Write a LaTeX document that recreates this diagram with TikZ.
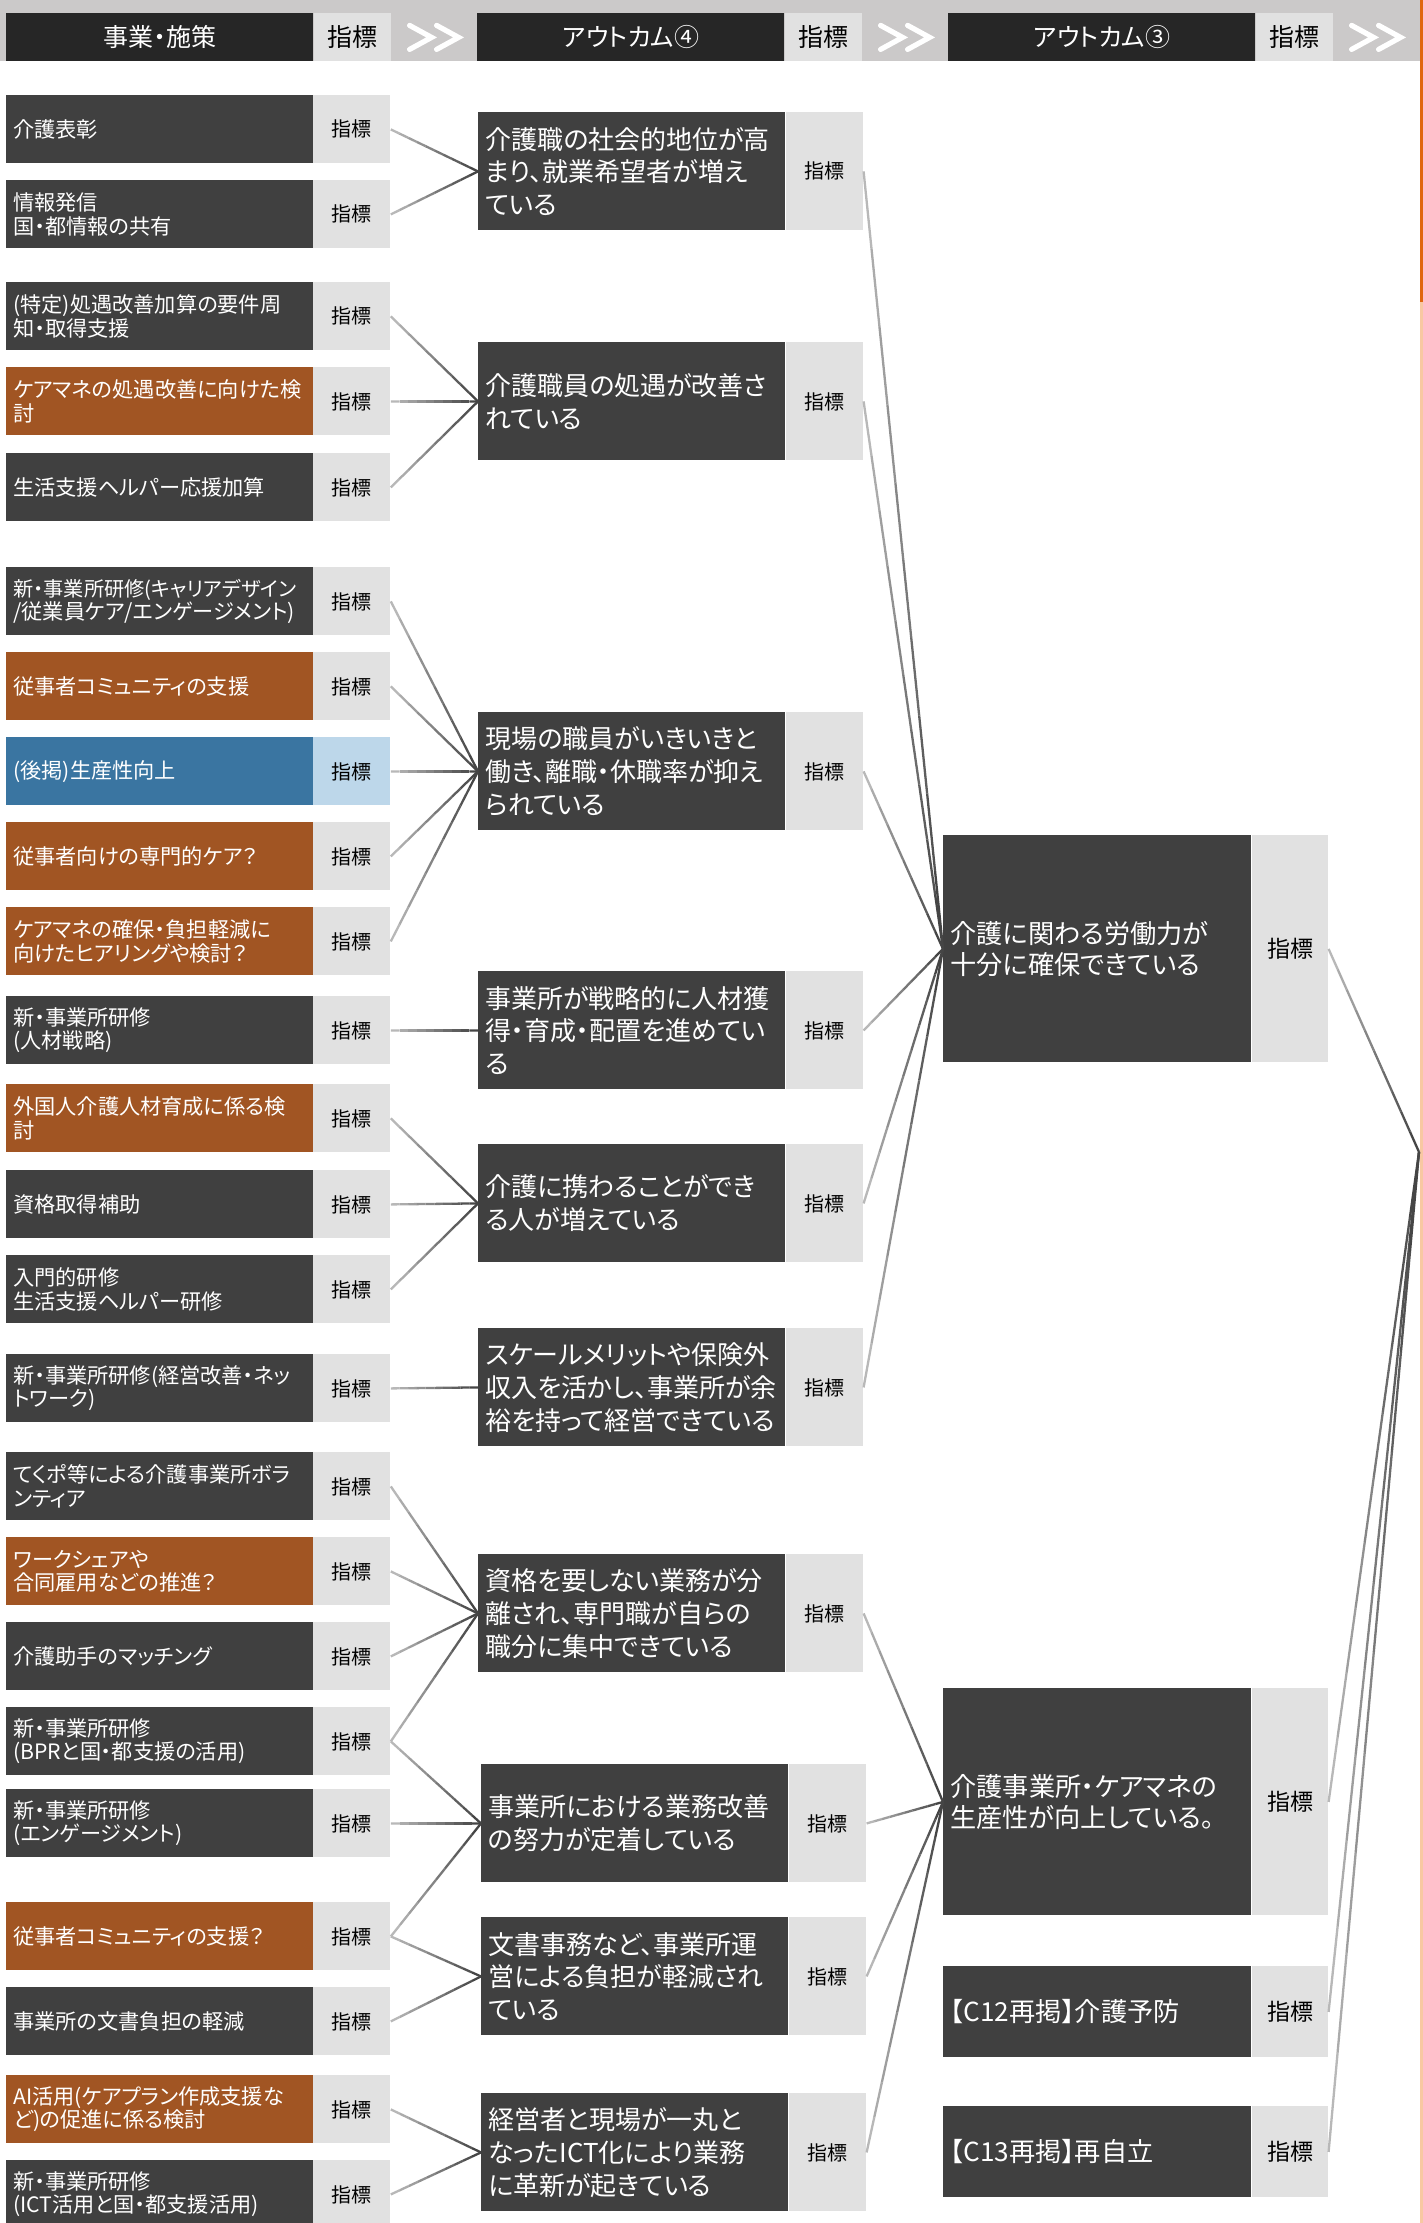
\documentclass[tikz,border=0pt]{standalone}
\usepackage{fontspec}
\setmainfont{Noto Sans CJK JP}[RawFeature={+palt}]
\usetikzlibrary{calc}
\definecolor{dk}{HTML}{404040}
\definecolor{hdk}{HTML}{262626}
\definecolor{hband}{HTML}{CBC9C9}
\definecolor{ig}{HTML}{E1E1E1}
\definecolor{org}{HTML}{A15523}
\definecolor{blu}{HTML}{3A75A1}
\definecolor{lblu}{HTML}{BDD7EA}
\definecolor{orD}{HTML}{E0660F}
\definecolor{orL}{HTML}{F8C8A2}
\tikzset{
  lbox/.style={anchor=north west, text=white, minimum height=34pt, text width=146.5pt,
    inner xsep=3.5pt, inner ysep=0pt, align=left, font=\fontsize{10.6}{11.6}\selectfont},
  ind/.style={anchor=north west, fill=ig, text=black, minimum width=38.5pt, inner sep=0pt,
    font=\fontsize{10}{12}\selectfont},
  mbox/.style={anchor=north west, fill=dk, text=white, minimum height=59pt, text width=146.5pt,
    inner xsep=3.5pt, inner ysep=0pt, align=left, font=\fontsize{13}{16.4}\selectfont},
  rbox/.style={anchor=north west, fill=dk, text=white, text width=147pt,
    inner xsep=3.5pt, inner ysep=0pt, align=left, font=\fontsize{13.1}{15.2}\selectfont},
  hbox/.style={anchor=north west, fill=hdk, text=white, minimum width=153.5pt, minimum height=24pt,
    inner sep=0pt, font=\fontsize{12.5}{14}\selectfont},
  hind/.style={anchor=north west, fill=ig, text=black, minimum width=38.5pt, minimum height=24pt,
    inner sep=0pt, font=\fontsize{12.5}{14}\selectfont},
  chev/.style={draw=white, line width=2.6pt, line cap=round},
  conn/.style={line width=1.15pt}
}
\newcommand\boxL[5]{%
  \node[lbox,fill=#3] (#1) at (6,#2) {#5};
  \node[ind,fill=#4,minimum height=34pt] (#1i) at (313,#2) {指標};}
\newcommand\boxM[4]{%
  \node[mbox] (#1) at (#2,#3) {#4};
  \node[ind,minimum height=59pt] (#1i) at ($(#1.north east)$) {指標};}
\newcommand\boxR[4]{%
  \node[rbox,minimum height=#3] (#1) at (943,#2) {#4};
  \node[ind,minimum width=38pt,minimum height=#3,font=\fontsize{11.5}{13}\selectfont] (#1i) at (#1.north east) {指標};}
\newcommand\gconn[2]{%
  \foreach \k in {0,...,9}{%
    \pgfmathsetmacro\pa{\k/10}%
    \pgfmathsetmacro\pb{(\k+1)/10}%
    \pgfmathtruncatemacro\sh{28+5*\k}%
    \draw[conn, draw=black!\sh] ($(#1)!\pa!(#2)$) -- ($(#1)!\pb!(#2)$);
  }}
\newcommand\narrow[1]{{\fontsize{10.1}{11.6}\selectfont #1}}
\begin{document}
\begin{tikzpicture}[x=0.5pt,y=-0.5pt]
\useasboundingbox (0,0) rectangle (1423,2223);
\fill[white] (0,0) rectangle (1423,2223);
% scroll strip
\fill[orD] (1420,0) rectangle (1423,302);
\fill[orL] (1420,302) rectangle (1423,2223);
% header
\fill[hband] (0,0) rectangle (1420,61);
\node[hbox] (H1) at (6,13) {事業・施策};
\node[hind] (H1i) at (H1.north east) {指標};
\node[hbox] (H2) at (477,13) {アウトカム④};
\node[hind] (H2i) at (H2.north east) {指標};
\node[hbox] (H3) at (948,13) {アウトカム③};
\node[hind] (H3i) at (H3.north east) {指標};
\foreach \h in {H1i,H2i,H3i}{
  \draw[chev] ($(\h.east)+(18,-12)$) -- ++(22,12) -- ++(-22,12);
  \draw[chev] ($(\h.east)+(45,-12)$) -- ++(22,12) -- ++(-22,12);
}
% left column
\boxL{L1}{95}{dk}{ig}{介護表彰}
\boxL{L2}{180}{dk}{ig}{情報発信\\国・都情報の共有}
\boxL{L3}{282}{dk}{ig}{(特定)処遇改善加算の要件周\\知・取得支援}
\boxL{L4}{367}{org}{ig}{ケアマネの処遇改善に向けた検\\討}
\boxL{L5}{453}{dk}{ig}{生活支援ヘルパー応援加算}
\boxL{L6}{567}{dk}{ig}{\narrow{新・事業所研修(キャリアデザイン}\\/従業員ケア/エンゲージメント)}
\boxL{L7}{652}{org}{ig}{従事者コミュニティの支援}
\boxL{L8}{737}{blu}{lblu}{(後掲)生産性向上}
\boxL{L9}{822}{org}{ig}{従事者向けの専門的ケア？}
\boxL{L10}{907}{org}{ig}{ケアマネの確保・負担軽減に\\向けたヒアリングや検討？}
\boxL{L11}{996}{dk}{ig}{新・事業所研修\\(人材戦略)}
\boxL{L12}{1084}{org}{ig}{外国人介護人材育成に係る検\\討}
\boxL{L13}{1170}{dk}{ig}{資格取得補助}
\boxL{L14}{1255}{dk}{ig}{入門的研修\\生活支援ヘルパー研修}
\boxL{L15}{1354}{dk}{ig}{新・事業所研修(経営改善・ネッ\\トワーク)}
\boxL{L16}{1452}{dk}{ig}{てくポ等による介護事業所ボラ\\ンティア}
\boxL{L17}{1537}{org}{ig}{ワークシェアや\\合同雇用などの推進？}
\boxL{L18}{1622}{dk}{ig}{介護助手のマッチング}
\boxL{L19}{1707}{dk}{ig}{新・事業所研修\\(BPRと国・都支援の活用)}
\boxL{L20}{1789}{dk}{ig}{新・事業所研修\\(エンゲージメント)}
\boxL{L21}{1902}{org}{ig}{従事者コミュニティの支援？}
\boxL{L22}{1987}{dk}{ig}{事業所の文書負担の軽減}
\boxL{L23}{2075}{org}{ig}{AI活用(ケアプラン作成支援な\\ど)の促進に係る検討}
\boxL{L24}{2160}{dk}{ig}{新・事業所研修\\(ICT活用と国・都支援活用)}
% middle column
\boxM{M1}{478}{112}{介護職の社会的地位が高\\まり、就業希望者が増え\\ている}
\boxM{M2}{478}{342}{介護職員の処遇が改善さ\\れている}
\boxM{M3}{478}{712}{現場の職員がいきいきと\\働き、離職・休職率が抑え\\られている}
\boxM{M4}{478}{971}{事業所が戦略的に人材獲\\得・育成・配置を進めてい\\る}
\boxM{M5}{478}{1144}{介護に携わることができ\\る人が増えている}
\boxM{M6}{478}{1328}{スケールメリットや保険外\\収入を活かし、事業所が余\\裕を持って経営できている}
\boxM{M7}{478}{1554}{資格を要しない業務が分\\離され、専門職が自らの\\職分に集中できている}
\boxM{M8}{481}{1764}{事業所における業務改善\\の努力が定着している}
\boxM{M9}{481}{1917}{文書事務など、事業所運\\営による負担が軽減され\\ている}
\boxM{M10}{481}{2093}{経営者と現場が一丸と\\なったICT化により業務\\に革新が起きている}
% right column
\boxR{R1}{835}{113.5pt}{介護に関わる労働力が\\十分に確保できている}
\boxR{R2}{1688}{113.5pt}{介護事業所・ケアマネの\\生産性が向上している。}
\boxR{R3}{1966}{45.5pt}{【C12再掲】介護予防}
\boxR{R4}{2106}{45.5pt}{【C13再掲】再自立}
\coordinate (sink) at (1419,1152);
% connectors left -> middle
\gconn{L1i.east}{M1.west}
\gconn{L2i.east}{M1.west}
\gconn{L3i.east}{M2.west}
\gconn{L4i.east}{M2.west}
\gconn{L5i.east}{M2.west}
\gconn{L6i.east}{M3.west}
\gconn{L7i.east}{M3.west}
\gconn{L8i.east}{M3.west}
\gconn{L9i.east}{M3.west}
\gconn{L10i.east}{M3.west}
\gconn{L11i.east}{M4.west}
\gconn{L12i.east}{M5.west}
\gconn{L13i.east}{M5.west}
\gconn{L14i.east}{M5.west}
\gconn{L15i.east}{M6.west}
\gconn{L16i.east}{M7.west}
\gconn{L17i.east}{M7.west}
\gconn{L18i.east}{M7.west}
\gconn{L19i.east}{M7.west}
\gconn{L19i.east}{M8.west}
\gconn{L20i.east}{M8.west}
\gconn{L21i.east}{M8.west}
\gconn{L21i.east}{M9.west}
\gconn{L22i.east}{M9.west}
\gconn{L23i.east}{M10.west}
\gconn{L24i.east}{M10.west}
% middle -> right
\foreach \m in {M1,M2,M3,M4,M5,M6}{\gconn{\m i.east}{R1.west}}
\foreach \m in {M7,M8,M9,M10}{\gconn{\m i.east}{R2.west}}
% right -> sink
\foreach \r in {R1,R2,R3,R4}{\gconn{\r i.east}{sink}}
\end{tikzpicture}
\end{document}
